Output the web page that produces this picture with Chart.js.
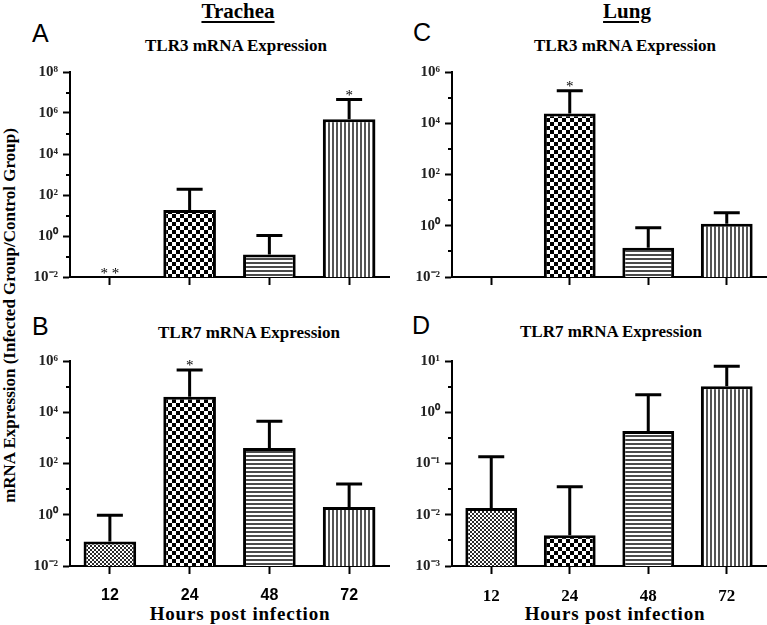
<!DOCTYPE html>
<html lang="en">
<head>
    <meta charset="UTF-8">
    <title>TLR3 / TLR7 mRNA Expression</title>
    <script src="https://cdn.jsdelivr.net/npm/chart.js"></script>
    <style>
        body {
            margin: 0;
            background: #fff;
        }
        .page {
            position: relative;
            width: 767px;
            height: 625px;
            overflow: hidden;
        }
        .page canvas {
            position: absolute;
        }
        .txt {
            position: absolute;
            white-space: nowrap;
            line-height: 1;
            color: #000;
        }
        .letter {
            font-family: "Liberation Sans", Arial, sans-serif;
            font-size: 25px;
        }
        .serif {
            font-family: "Liberation Serif", "Times New Roman", serif;
            font-weight: bold;
            text-align: center;
        }
        .organ {
            font-size: 21px;
            text-decoration: underline;
            text-underline-offset: 3px;
            text-decoration-thickness: 1.5px;
        }
        .sub {
            font-size: 17px;
        }
        .xtitle {
            font-size: 19px;
            letter-spacing: 0.8px;
        }
        .ytitle {
            font-size: 17px;
            width: 420px;
            transform: rotate(-90deg);
        }
    </style>
</head>
<body>
<div class="page">
    <div class="txt letter" style="left:32px; top:21px;">A</div>
    <div class="txt letter" style="left:413px; top:20px;">C</div>
    <div class="txt letter" style="left:32px; top:314px;">B</div>
    <div class="txt letter" style="left:412px; top:313px;">D</div>

    <div class="txt serif organ" style="left:138px; width:200px; top:1px;">Trachea</div>
    <div class="txt serif organ" style="left:527px; width:200px; top:1px;">Lung</div>

    <div class="txt serif sub" style="left:136px; width:200px; top:37px;">TLR3 mRNA Expression</div>
    <div class="txt serif sub" style="left:525px; width:200px; top:37px;">TLR3 mRNA Expression</div>
    <div class="txt serif sub" style="left:149px; width:200px; top:324px;">TLR7 mRNA Expression</div>
    <div class="txt serif sub" style="left:511px; width:200px; top:323px;">TLR7 mRNA Expression</div>

    <div class="txt serif xtitle" style="left:130px; width:220px; top:604px;">Hours post infection</div>
    <div class="txt serif xtitle" style="left:505px; width:220px; top:604px;">Hours post infection</div>

    <div class="txt serif ytitle" style="left:-201px; top:307px;">mRNA Expression (Infected Group/Control Group)</div>

    <canvas id="chartA" width="390" height="238" style="left:0; top:58px;"></canvas>
    <canvas id="chartC" width="385" height="238" style="left:382px; top:58px;"></canvas>
    <canvas id="chartB" width="390" height="259" style="left:0; top:347px;"></canvas>
    <canvas id="chartD" width="385" height="259" style="left:382px; top:347px;"></canvas>
</div>

<script>
    // hours post infection
    const hours = ['12', '24', '48', '72'];

    // trachea, TLR3 (12 h below detection)
    const tracheaTlr3 = [null, 18.6, 0.125, 490000];
    const tracheaTlr3Err = [null, 190, 1.05, 4500000];
    const tracheaTlr3Sig = ['**', '', '', '*'];

    // trachea, TLR7
    const tracheaTlr7 = [0.09, 40000, 400, 2.0];
    const tracheaTlr7Err = [0.95, 450000, 4500, 16];
    const tracheaTlr7Sig = ['', '*', '', ''];

    // lung, TLR3 (12 h below detection)
    const lungTlr3 = [null, 24000, 0.14, 1.2];
    const lungTlr3Err = [null, 186000, 0.83, 3.2];
    const lungTlr3Sig = ['', '*', '', ''];

    // lung, TLR7
    const lungTlr7 = [0.0135, 0.004, 0.43, 3.2];
    const lungTlr7Err = [0.135, 0.035, 2.2, 7.9];
    const lungTlr7Sig = ['', '', '', ''];

    // y axis ticks (labelled) and minor tick marks
    const ticksA = [1e-2, 1e0, 1e2, 1e4, 1e6, 1e8];
    const minorA = [1e-1, 1e1, 1e3, 1e5, 1e7];
    const ticksBC = [1e-2, 1e0, 1e2, 1e4, 1e6];
    const minorBC = [1e-1, 1e1, 1e3, 1e5];
    const ticksD = [1e-3, 1e-2, 1e-1, 1e0, 1e1];
    const minorD = [3.162e-3, 3.162e-2, 3.162e-1, 3.162];

    const SUP = {'0': '⁰', '1': '¹', '2': '²', '3': '³', '4': '⁴', '5': '⁵', '6': '⁶', '7': '⁷', '8': '⁸', '9': '⁹', '-': '⁻'};
    function powLabel(v) {
        const e = String(Math.round(Math.log10(v)));
        return '10' + e.split('').map(c => SUP[c]).join('');
    }

    function makePattern(kind) {
        const c = document.createElement('canvas');
        const g = c.getContext('2d');
        c.width = 8;
        c.height = 8;
        g.fillStyle = '#fff';
        g.fillRect(0, 0, 8, 8);
        if (kind === 'fine') {
            g.fillStyle = '#2a2a2a';
            for (let y = 0; y < 8; y += 2) {
                for (let x = (y / 2) % 2 * 2; x < 8; x += 4) g.fillRect(x, y, 2, 2);
            }
        } else if (kind === 'checker') {
            g.fillStyle = '#000';
            g.fillRect(0, 0, 4, 4);
            g.fillRect(4, 4, 4, 4);
        } else if (kind === 'hlines') {
            g.fillStyle = '#4a4a4a';
            g.fillRect(0, 0, 8, 2);
            g.fillRect(0, 4, 8, 2);
        } else {
            g.fillStyle = '#555';
            g.fillRect(0, 0, 2, 8);
            g.fillRect(4, 0, 2, 8);
        }
        return g.createPattern(c, 'repeat');
    }
    const fills = [makePattern('fine'), makePattern('checker'), makePattern('hlines'), makePattern('vlines')];

    // error bars (upper only), significance stars, minor ticks
    const extras = {
        id: 'extras',
        afterDatasetsDraw(chart, args, opts) {
            const ctx = chart.ctx;
            const y = chart.scales.y;
            const x = chart.scales.x;
            const vals = chart.data.datasets[0].data;
            ctx.save();
            ctx.strokeStyle = '#000';
            ctx.lineWidth = 3;
            ctx.lineCap = 'butt';
            vals.forEach((v, i) => {
                const px = x.getPixelForValue(i);
                let starY = y.bottom - 3;
                if (v != null) {
                    const py = y.getPixelForValue(v);
                    const pt = y.getPixelForValue(opts.tops[i]);
                    ctx.beginPath();
                    ctx.moveTo(px, py);
                    ctx.lineTo(px, pt);
                    ctx.moveTo(px - 13, pt);
                    ctx.lineTo(px + 13, pt);
                    ctx.stroke();
                    starY = pt - 4;
                }
                if (opts.stars[i]) {
                    ctx.fillStyle = '#000';
                    ctx.font = '15px "Liberation Serif", serif';
                    ctx.textAlign = 'center';
                    ctx.textBaseline = 'alphabetic';
                    ctx.fillText(opts.stars[i].split('').join(' '), px, starY + 4);
                }
            });
            ctx.lineWidth = 2;
            opts.minor.forEach(v => {
                const py = Math.round(y.getPixelForValue(v));
                ctx.beginPath();
                ctx.moveTo(chart.chartArea.left - 4, py);
                ctx.lineTo(chart.chartArea.left, py);
                ctx.stroke();
            });
            ctx.restore();
        }
    };

    function panel(id, values, tops, stars, yMin, yMax, majors, minor, xLabels, xFont) {
        const bottom = xLabels ? 40 : 19;
        return new Chart(document.getElementById(id), {
            type: 'bar',
            data: {
                labels: hours,
                datasets: [{
                    data: values,
                    backgroundColor: fills,
                    borderColor: '#000',
                    borderWidth: 3,
                    borderSkipped: 'start',
                    categoryPercentage: 1,
                    barPercentage: 0.66
                }]
            },
            options: {
                responsive: false,
                animation: false,
                layout: {padding: {top: 11, right: 1, left: 0, bottom: 0}},
                plugins: {
                    legend: {display: false},
                    tooltip: {enabled: false},
                    extras: {tops: tops, stars: stars, minor: minor}
                },
                scales: {
                    x: {
                        offset: true,
                        grid: {display: true, drawOnChartArea: false, offset: false, tickLength: 8, tickWidth: 2, tickColor: '#000'},
                        border: {color: '#000', width: 2},
                        ticks: {
                            display: xLabels,
                            color: '#000',
                            padding: 12,
                            font: xFont
                        },
                        afterFit(s) { s.height = bottom; }
                    },
                    y: {
                        type: 'logarithmic',
                        min: yMin,
                        max: yMax,
                        grid: {display: true, drawOnChartArea: false, tickLength: 7, tickWidth: 2, tickColor: '#000'},
                        border: {color: '#000', width: 2},
                        afterBuildTicks(s) { s.ticks = majors.map(v => ({value: v})); },
                        ticks: {
                            autoSkip: false,
                            color: '#222',
                            padding: 5,
                            font: {family: '"Liberation Serif", serif', size: 15, weight: 'bold'},
                            callback: v => powLabel(v)
                        },
                        afterFit(s) { s.width = 70; }
                    }
                }
            },
            plugins: [extras]
        });
    }

    const sansTicks = {family: '"Liberation Sans", Arial, sans-serif', size: 16, weight: 'bold'};
    const serifTicks = {family: '"Liberation Serif", serif', size: 17, weight: 'bold'};

    panel('chartA', tracheaTlr3, tracheaTlr3Err, tracheaTlr3Sig, 1e-2, 1e8, ticksA, minorA, false, serifTicks);
    panel('chartC', lungTlr3, lungTlr3Err, lungTlr3Sig, 1e-2, 1e6, ticksBC, minorBC, false, serifTicks);
    panel('chartB', tracheaTlr7, tracheaTlr7Err, tracheaTlr7Sig, 1e-2, 1e6, ticksBC, minorBC, true, sansTicks);
    panel('chartD', lungTlr7, lungTlr7Err, lungTlr7Sig, 1e-3, 1e1, ticksD, minorD, true, serifTicks);
</script>
</body>
</html>
